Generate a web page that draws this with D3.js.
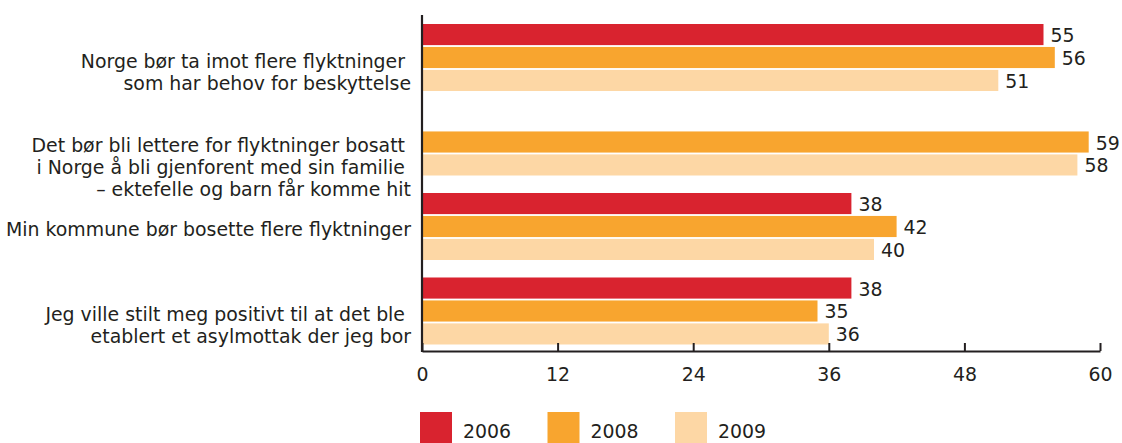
<!DOCTYPE html>
<html><head><meta charset="utf-8">
<script src="https://cdn.jsdelivr.net/npm/d3@7"></script>
<style>
html,body{margin:0;padding:0;background:#fff;}
svg{display:block;font-family:"DejaVu Sans",Verdana,sans-serif;}
text{white-space:pre;}
</style></head>
<body>
<svg id="c" width="1122" height="443"></svg>
<script>
const categories = [
  ["Norge bør ta imot flere flyktninger\u00a0", "som har behov for beskyttelse"],
  ["Det bør bli lettere for flyktninger bosatt\u00a0", "i Norge å bli gjenforent med sin familie\u00a0", "– ektefelle og barn får komme hit"],
  ["Min kommune bør bosette flere flyktninger"],
  ["Jeg ville stilt meg positivt til at det ble\u00a0", "etablert et asylmottak der jeg bor"]
];
const years = ["2006", "2008", "2009"];
const values2006 = [55, null, 38, 38];
const values2008 = [56, 59, 42, 35];
const values2009 = [51, 58, 40, 36];
const xTicks = [0, 12, 24, 36, 48, 60];
const colors = ["#D9232F", "#F8A52F", "#FDD7A5"];

const series = [values2006, values2008, values2009];
const svg = d3.select("#c");
const textColor = "#231F20";
const fs = 18.9;

const x = d3.scaleLinear().domain([0, 60]).range([422, 1100]);
const catIdx = categories.map((d, i) => i);
const y = d3.scaleBand().domain(catIdx).range([15.25, 353.25]).paddingInner(0.207).paddingOuter(0.1036);
const yi = d3.scaleBand().domain(years).range([0, y.bandwidth()]).paddingInner(0.08);
const color = d3.scaleOrdinal().domain(years).range(colors);

// bars
const rows = [];
catIdx.forEach(ci => years.forEach((yr, si) => {
  const v = series[si][ci];
  if (v != null) rows.push({ci, yr, v});
}));

svg.append("g").selectAll("rect").data(rows).join("rect")
  .attr("x", x(0))
  .attr("y", d => y(d.ci) + yi(d.yr))
  .attr("width", d => x(d.v) - x(0))
  .attr("height", yi.bandwidth())
  .attr("fill", d => color(d.yr));

svg.append("g").selectAll("text").data(rows).join("text")
  .attr("x", d => x(d.v) + 7)
  .attr("y", d => y(d.ci) + yi(d.yr) + yi.bandwidth() / 2 + 7.5)
  .attr("font-size", fs)
  .attr("fill", textColor)
  .text(d => d.v);

// x axis
const ax = svg.append("g").attr("transform", "translate(0,351)")
  .call(d3.axisBottom(x).tickValues(xTicks).tickSizeInner(-8).tickSizeOuter(0).tickPadding(17));
ax.select(".domain").attr("stroke", textColor).attr("stroke-width", 2.2);
ax.selectAll(".tick line").attr("stroke", textColor).attr("stroke-width", 2);
ax.selectAll(".tick text").attr("font-size", fs).attr("fill", textColor)
  .attr("font-family", '"DejaVu Sans",Verdana,sans-serif');

// y axis line
svg.append("line").attr("x1", x(0)).attr("x2", x(0)).attr("y1", 15).attr("y2", 352)
  .attr("stroke", textColor).attr("stroke-width", 2.2);

// category labels
const lh = 22;
const lab = svg.append("g").selectAll("text").data(categories).join("text")
  .attr("font-size", fs).attr("fill", textColor).attr("text-anchor", "end");
lab.each(function(lines, ci) {
  const t = d3.select(this);
  lines.forEach((ln, k) => {
    t.append("tspan").attr("x", 411)
      .attr("y", y(ci) + y.bandwidth() / 2 + 10 + k * lh)
      .text(ln);
  });
});

// legend
const lg = svg.append("g").selectAll("g").data(years).join("g")
  .attr("transform", (d, i) => `translate(${420 + i * 127.5},412)`);
lg.append("rect").attr("width", 32).attr("height", 34).attr("fill", d => color(d));
lg.append("text").attr("x", 43).attr("y", 26).attr("font-size", fs).attr("fill", textColor).text(d => d);
</script>
</body></html>
